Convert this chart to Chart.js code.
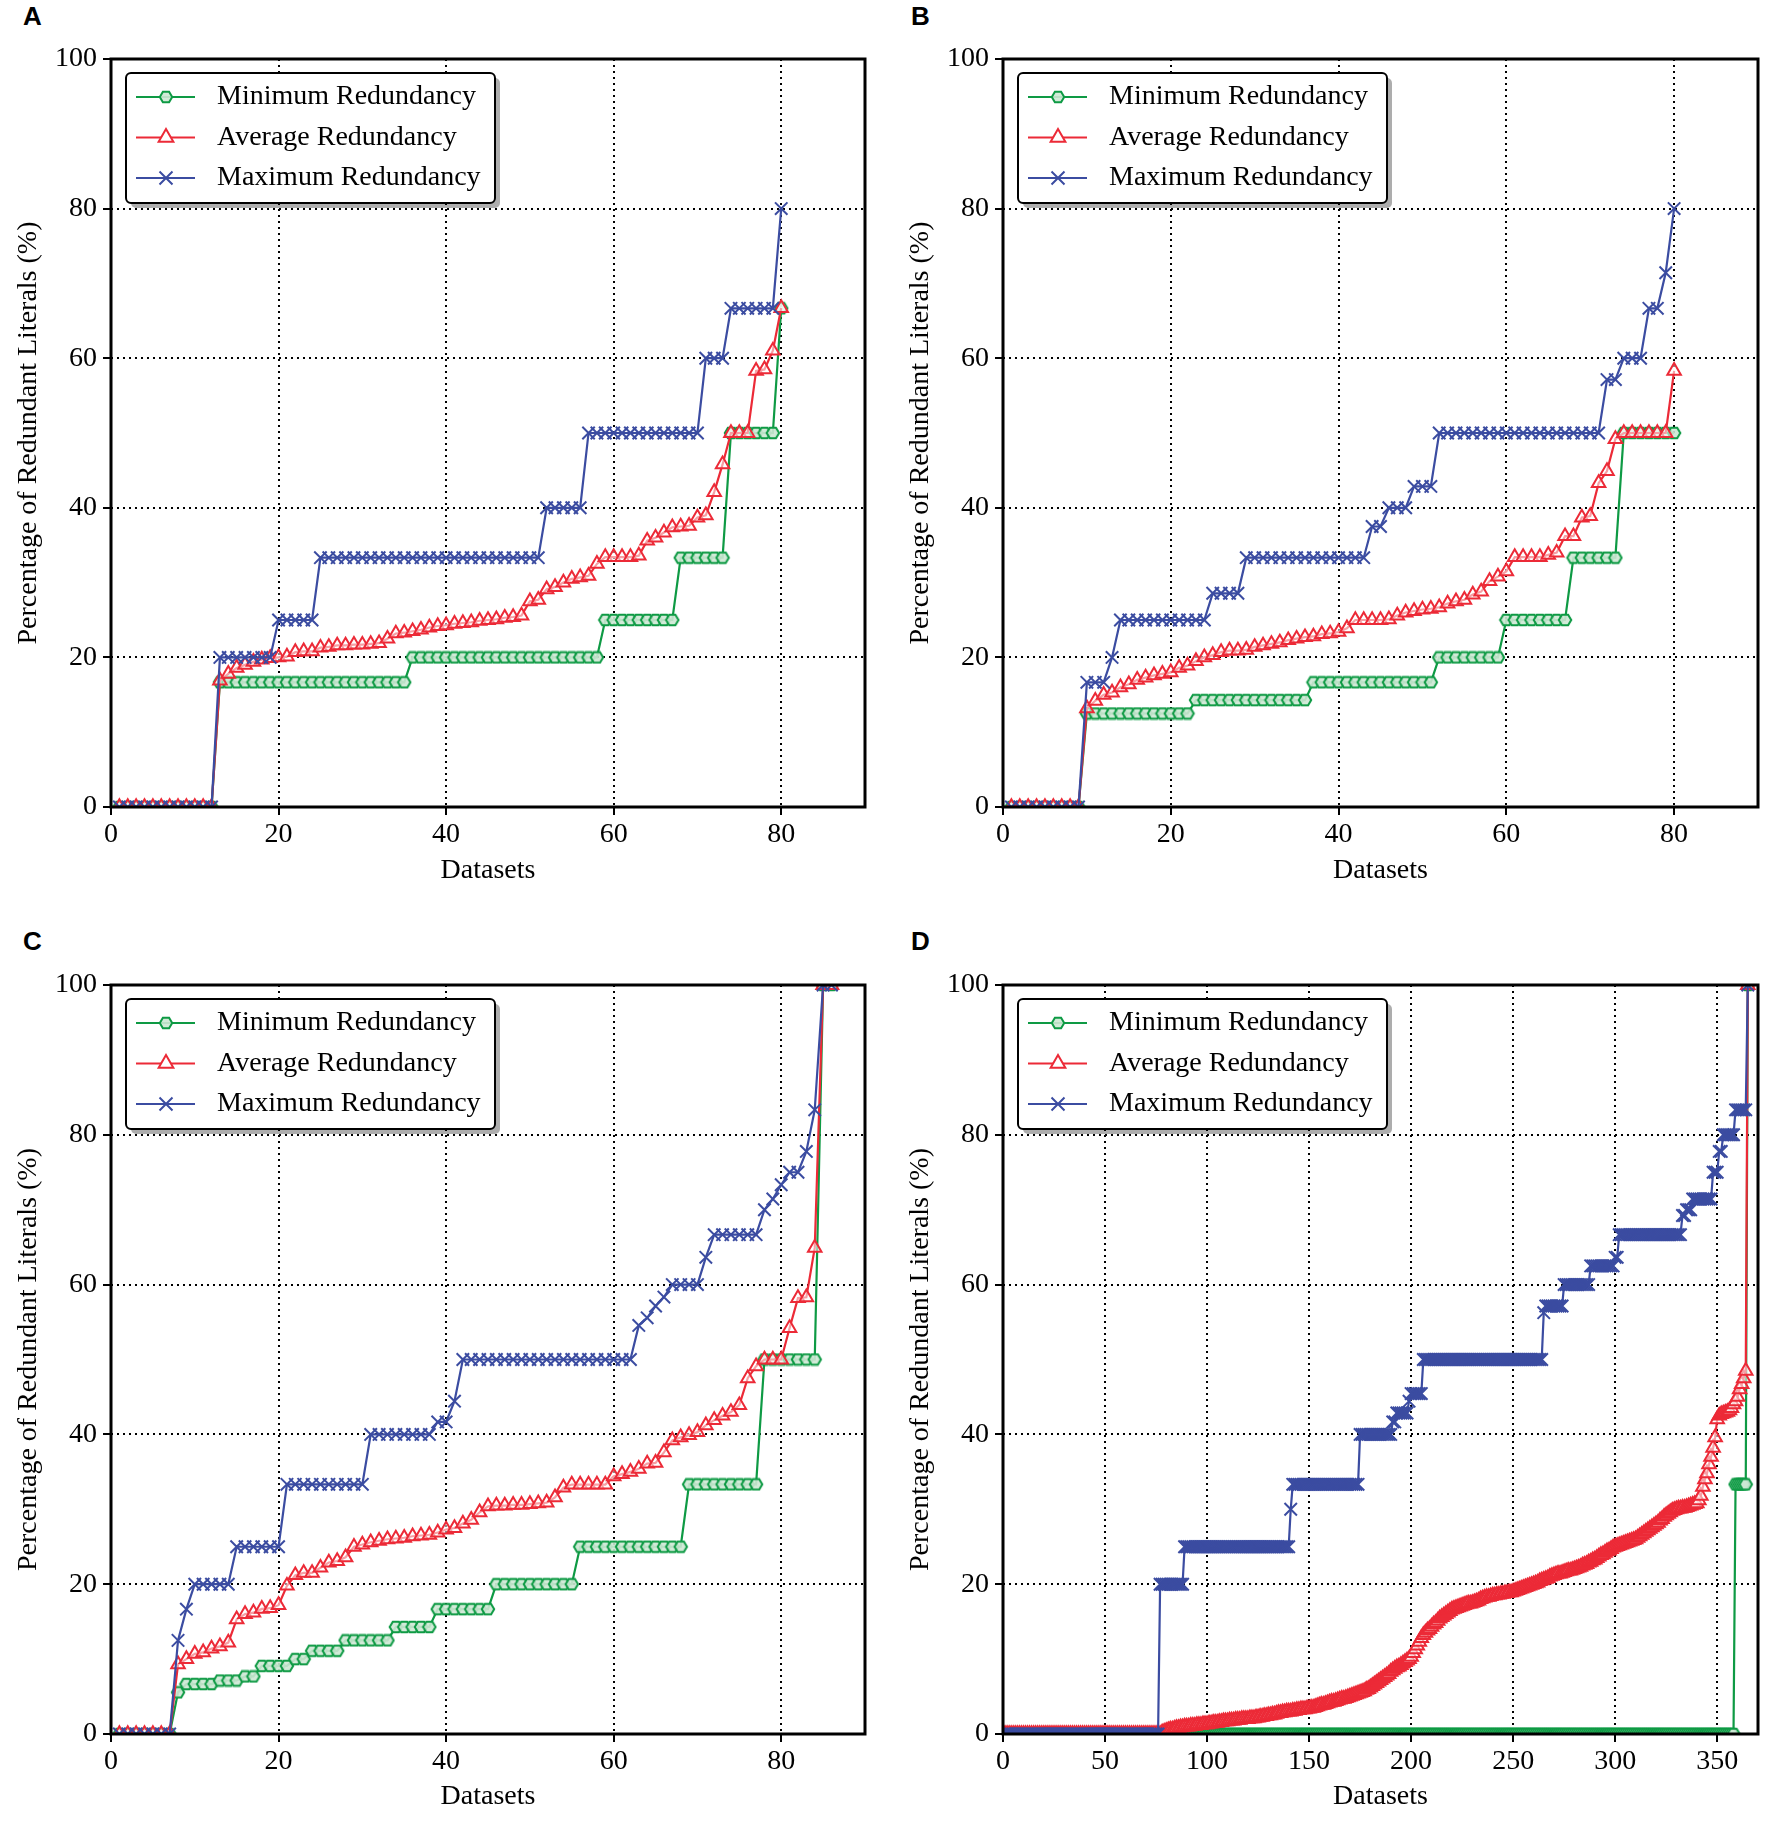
<!DOCTYPE html>
<html>
<head>
<meta charset="utf-8">
<script src="https://cdn.jsdelivr.net/npm/chart.js@4.4.1/dist/chart.umd.min.js"></script>
<style>
  html, body { margin: 0; padding: 0; background: #fff; }
  body { width: 1772px; height: 1826px; position: relative; overflow: hidden; }
  canvas { position: absolute; }
  .tag { position: absolute; font: bold 26px "Liberation Sans", Arial, sans-serif; line-height: 26px; color: #000; }
</style>
</head>
<body>
<div class="tag" style="left:23px;top:3px">A</div>
<div class="tag" style="left:911px;top:3px">B</div>
<div class="tag" style="left:23px;top:928px">C</div>
<div class="tag" style="left:911px;top:928px">D</div>
<canvas id="plotA" width="886" height="913" style="left:0;top:0"></canvas>
<canvas id="plotB" width="886" height="913" style="left:886px;top:0"></canvas>
<canvas id="plotC" width="886" height="913" style="left:0;top:913px"></canvas>
<canvas id="plotD" width="886" height="913" style="left:886px;top:913px"></canvas>
<script>
// series are written as run lists: [value, count] is a flat run, a bare number is one dataset
const minA = [[0, 12], [16.67, 23], [20, 23], [25, 9], [33.33, 6], [50, 6], 66.67];
const avgA = [[0, 12],
  16.9, 17.8, 18.6, 19.0, 19.4, 19.7, 19.9, 20.0, 20.1, 20.7, 20.8, 20.8, 21.3, 21.4, 21.6, 21.6,
  21.7, 21.7, 21.8, 21.9, 22.5, 23.2, 23.3, 23.5, 23.7, 24.0, 24.2, 24.3, 24.5, 24.6, 24.7, 24.9,
  25.0, 25.1, 25.3, 25.4, 25.6, 27.5, 27.7, 29.1, 29.4, 30.0, 30.5, 30.7, 30.9, 32.5, 33.4, 33.4,
  33.4, 33.4, 33.6, 35.6, 36.0, 36.7, 37.4, 37.5, 37.6, 38.7, 39.0, 42.1, 45.8, 50, 50, 50,
  58.3, 58.5, 61.0, 66.7];
const maxA = [[0, 12], [20, 7], [25, 5], [33.33, 27], [40, 5], [50, 14], [60, 3], [66.67, 6], 80];

const minB = [[0, 9], [12.5, 13], [14.29, 14], [16.67, 15], [20, 8], [25, 8], [33.33, 6], [50, 7]];
const avgB = [[0, 9],
  13.2, 14.2, 15.0, 15.3, 16.0, 16.4, 17.0, 17.3, 17.6, 17.8, 18.0, 18.6, 18.9, 19.5, 20.0, 20.3,
  20.7, 20.9, 20.9, 21.0, 21.4, 21.6, 21.8, 22.0, 22.3, 22.5, 22.7, 22.8, 23.1, 23.2, 23.4, 23.9,
  25.0, 25.0, 25.0, 25.0, 25.1, 25.6, 26.0, 26.2, 26.4, 26.5, 26.7, 27.2, 27.5, 27.7, 28.4, 28.8,
  30.2, 30.8, 31.5, 33.4, 33.4, 33.4, 33.4, 33.7, 34.0, 36.2, 36.2, 38.7, 38.9, 43.3, 44.9, 49.2,
  [50, 6], 58.3];
const maxB = [[0, 9], [16.67, 3], 20, [25, 11], [28.57, 4], [33.33, 15], [37.5, 2], [40, 3], [42.86, 3],
  [50, 20], [57.14, 2], [60, 3], [66.67, 2], 71.43, 80];

const minC = [[0, 7], 5.56, [6.67, 4], [7.14, 3], [7.69, 2], [9.09, 4], [10, 2], [11.11, 4], [12.5, 6],
  [14.29, 5], [16.67, 7], [20, 10], [25, 13], [33.33, 9], [50, 7], [100, 2]];
const avgC = [[0, 7],
  9.3, 10.0, 10.7, 10.9, 11.4, 11.7, 12.2, 15.3, 16.0, 16.2, 16.7, 16.8, 17.2, 19.8, 21.2, 21.5,
  21.5, 22.2, 22.9, 23.1, 23.6, 25.0, 25.3, 25.6, 25.8, 26.0, 26.1, 26.2, 26.4, 26.5, 26.6, 26.9,
  27.3, 27.5, 28.1, 28.6, 29.6, 30.4, 30.5, 30.5, 30.6, 30.6, 30.7, 30.8, 30.9, 31.6, 32.9, 33.3,
  33.3, 33.3, 33.3, 33.3, 34.4, 34.7, 35.0, 35.4, 36.1, 36.2, 37.6, 39.2, 39.6, 39.9, 40.3, 41.2,
  41.9, 42.5, 43.0, 43.9, 47.5, 49.1, 50, 50, 50, 54.2, 58.2, 58.3, 64.9, 100, 100];
const maxC = [[0, 7], 12.5, 16.67, [20, 5], [25, 6], [33.33, 10], [40, 8], [41.67, 2], 44.44, [50, 21],
  54.55, 55.56, 57.14, 58.33, [60, 4], 63.64, [66.67, 6], 70, 71.43, 73.33, [75, 2], 77.78, 83.33, [100, 2]];

const minD = [[0, 358], [33.33, 6], 100];
const avgD = [[0, 77],
  0.2, 0.3, 0.4, 0.5, 0.6, 0.6, 0.7, 0.8, 0.8, 0.9, 0.9, 1.0, 1.0, 1.0, 1.1, 1.1, 1.1, 1.2, 1.2, 1.2, 1.3, 1.3, 1.3,
  1.4, 1.4, 1.5, 1.5, 1.5, 1.6, 1.6, 1.7, 1.7, 1.7,
  1.8, 1.8, 1.8, 1.9, 1.9, 1.9, 2.0, 2.0, 2.0, 2.0,
  2.1, 2.1, 2.1, 2.2, 2.2, 2.3, 2.3, 2.4, 2.4, 2.5,
  2.5, 2.6, 2.6, 2.7, 2.8, 2.8, 2.9, 2.9, 3.0, 3.0,
  3.0, 3.1, 3.1, 3.2, 3.2, 3.3, 3.3, 3.3, 3.4, 3.4,
  3.5, 3.5, 3.6, 3.7, 3.8, 3.9, 3.9, 4.0, 4.1, 4.2,
  4.3, 4.3, 4.4, 4.5, 4.6, 4.7, 4.7, 4.8, 4.9, 5.0,
  5.1, 5.2, 5.3, 5.4, 5.5, 5.6, 5.7, 5.9, 6.0, 6.2,
  6.4, 6.6, 6.8, 7.0, 7.2, 7.4, 7.6, 7.8, 8.0, 8.3,
  8.5, 8.7, 8.9, 9.0, 9.2, 9.4, 9.6, 9.8, 10.0, 10.3,
  10.8, 11.3, 11.8, 12.3, 12.8, 13.2, 13.5, 13.8, 14.0, 14.3,
  14.6, 14.8, 15.1, 15.4, 15.6, 15.8, 16.0, 16.2, 16.4, 16.6,
  16.7, 16.8, 16.9, 17.0, 17.1, 17.2, 17.3, 17.4, 17.4, 17.5,
  17.6, 17.7, 17.8, 18.0, 18.1, 18.2, 18.3, 18.3, 18.4, 18.5,
  18.5, 18.6, 18.6, 18.7, 18.7, 18.8, 18.8, 18.9, 18.9, 19.0,
  19.1, 19.2, 19.3, 19.4, 19.5, 19.6, 19.7, 19.8, 19.9, 20.0,
  20.1, 20.2, 20.4, 20.5, 20.6, 20.7, 20.8, 21.0, 21.1, 21.2,
  21.3, 21.4, 21.4, 21.5, 21.6, 21.7, 21.8, 21.8, 21.9, 22.0,
  22.1, 22.2, 22.3, 22.5, 22.6, 22.7, 22.9, 23.0, 23.2, 23.3,
  23.5, 23.7, 23.9, 24.0, 24.2, 24.4, 24.5, 24.7, 24.9, 25.0,
  25.1, 25.2, 25.3, 25.4, 25.5, 25.6, 25.7, 25.8, 25.9, 26.0,
  26.2, 26.4, 26.6, 26.8, 27.0, 27.2, 27.4, 27.6, 27.8, 28.0,
  28.2, 28.5, 28.7, 29.0, 29.2, 29.4, 29.6, 29.8, 29.9, 30.0,
  30.1, 30.1, 30.2, 30.2, 30.3, 30.4, 30.5, 30.6, 30.7, 30.8,
  31.2, 31.8, 33.0, 34.0, 34.8, 36.0, 37.0, 38.2, 39.6, 42.0,
  42.5, 42.7, 42.8, 42.9, 43.0, 43.2, 43.5, 44.0, 44.4, 45.0,
  46.0, 46.7, 47.5, 48.5, 100];
const maxD = [[0, 76], [20, 12], [25, 52], 30, [33.33, 33], [40, 16], [41.67, 2], [42.86, 6], 44.44,
  [45.45, 6], [50, 59], 56.25, [57.14, 9], [60, 13], [62.5, 12], [63.64, 2], [66.67, 31], [69.23, 2],
  [70, 3], [71.43, 10], [75, 3], [77.78, 2], [80, 6], [83.33, 6], 100];

const xTicksSmall = [0, 20, 40, 60, 80];
const xTicksLarge = [0, 50, 100, 150, 200, 250, 300, 350];
const yTicks = [0, 20, 40, 60, 80, 100];

const seriesLabels = ["Minimum Redundancy", "Average Redundancy", "Maximum Redundancy"];
const GREEN = "#0e9a44";
const RED = "#ec2a37";
const BLUE = "#3b4ca1";
const SERIF = '"Liberation Serif", "Times New Roman", serif';

function expand(list) {
  let out = [];
  list.forEach((item) => {
    if (Array.isArray(item)) {
      for (let i = 0; i < item[1]; i++) out.push(item[0]);
    } else {
      out.push(item);
    }
  });
  return out;
}

//matplotlib-like hexagon marker, chart.js has none so it is passed as an image
function hexMarker(color) {
  let c = document.createElement("canvas");
  c.width = 16;
  c.height = 14;
  let g = c.getContext("2d");
  let cx = 8, cy = 7, rx = 6.2, ry = 5.2;
  g.beginPath();
  g.moveTo(cx - rx, cy);
  g.lineTo(cx - rx / 2, cy - ry);
  g.lineTo(cx + rx / 2, cy - ry);
  g.lineTo(cx + rx, cy);
  g.lineTo(cx + rx / 2, cy + ry);
  g.lineTo(cx - rx / 2, cy + ry);
  g.closePath();
  g.fillStyle = "rgba(205,232,212,0.9)";
  g.fill();
  g.lineWidth = 2;
  g.strokeStyle = color;
  g.stroke();
  return c;
}
const hexGreen = hexMarker(GREEN);

const markerStyles = [
  { color: GREEN, style: hexGreen, radius: 6 },
  { color: RED, style: "triangle", radius: 7.8 },
  { color: BLUE, style: "crossRot", radius: 8.8 },
];

function makeDataset(i, values) {
  let m = markerStyles[i];
  return {
    label: seriesLabels[i],
    order: 2 - i,
    data: expand(values).map((v, k) => ({ x: k + 1, y: v })),
    borderColor: m.color,
    borderWidth: 2.2,
    pointStyle: m.style,
    pointRadius: m.radius,
    pointBorderColor: m.color,
    pointBackgroundColor: "rgba(255,255,255,0.55)",
    pointBorderWidth: 2,
    tension: 0,
    fill: false,
  };
}

function drawLegendMarker(ctx, i, x, y) {
  let m = markerStyles[i];
  ctx.save();
  ctx.strokeStyle = m.color;
  ctx.lineWidth = 2;
  if (i == 0) {
    ctx.drawImage(hexGreen, x - 8, y - 7);
  } else if (i == 1) {
    let r = 8.5;
    ctx.beginPath();
    ctx.moveTo(x, y - r);
    ctx.lineTo(x + r * 0.866, y + r / 2);
    ctx.lineTo(x - r * 0.866, y + r / 2);
    ctx.closePath();
    ctx.fillStyle = "#fff";
    ctx.fill();
    ctx.stroke();
  } else {
    let d = 6.5;
    ctx.beginPath();
    ctx.moveTo(x - d, y - d);
    ctx.lineTo(x + d, y + d);
    ctx.moveTo(x + d, y - d);
    ctx.lineTo(x - d, y + d);
    ctx.stroke();
  }
  ctx.restore();
}

function roundRect(ctx, x, y, w, h, r) {
  ctx.beginPath();
  ctx.moveTo(x + r, y);
  ctx.arcTo(x + w, y, x + w, y + h, r);
  ctx.arcTo(x + w, y + h, x, y + h, r);
  ctx.arcTo(x, y + h, x, y, r);
  ctx.arcTo(x, y, x + w, y, r);
  ctx.closePath();
}

//box round the plot area plus the framed legend in the upper left corner
const framePlugin = {
  id: "frameAndLegend",
  afterDraw(chart) {
    let ctx = chart.ctx;
    let a = chart.chartArea;
    ctx.save();
    ctx.strokeStyle = "#000";
    ctx.lineWidth = 3;
    ctx.strokeRect(a.left, a.top, a.right - a.left, a.bottom - a.top);

    let bx = a.left + 15, by = a.top + 14, bw = 369, bh = 130;
    roundRect(ctx, bx + 5, by + 5, bw, bh, 5);
    ctx.fillStyle = "rgba(0,0,0,0.32)";
    ctx.fill();
    roundRect(ctx, bx, by, bw, bh, 5);
    ctx.fillStyle = "#fff";
    ctx.fill();
    ctx.lineWidth = 2;
    ctx.stroke();

    ctx.font = "28px " + SERIF;
    ctx.textBaseline = "middle";
    seriesLabels.forEach((label, i) => {
      let ly = a.top + 38 + i * 40.5;
      ctx.strokeStyle = markerStyles[i].color;
      ctx.lineWidth = 2.2;
      ctx.beginPath();
      ctx.moveTo(a.left + 25, ly);
      ctx.lineTo(a.left + 84, ly);
      ctx.stroke();
      drawLegendMarker(ctx, i, a.left + 55, ly);
      ctx.fillStyle = "#000";
      ctx.fillText(label, a.left + 106, ly);
    });
    ctx.restore();
  },
};

const panels = [
  { id: "plotA", series: [minA, avgA, maxA], xMax: 90, xTicks: xTicksSmall, area: { l: 111, t: 59, r: 865, b: 807 }, yTitlePad: 12, xTitlePad: 26 },
  { id: "plotB", series: [minB, avgB, maxB], xMax: 90, xTicks: xTicksSmall, area: { l: 117, t: 59, r: 872, b: 807 }, yTitlePad: 18, xTitlePad: 26 },
  { id: "plotC", series: [minC, avgC, maxC], xMax: 90, xTicks: xTicksSmall, area: { l: 111, t: 72, r: 865, b: 821 }, yTitlePad: 12, xTitlePad: 13 },
  { id: "plotD", series: [minD, avgD, maxD], xMax: 370, xTicks: xTicksLarge, area: { l: 117, t: 72, r: 872, b: 821 }, yTitlePad: 18, xTitlePad: 13 },
];

function drawPanel(p) {
  let canvas = document.getElementById(p.id);
  let W = canvas.width, H = canvas.height;
  let tickFont = { family: SERIF, size: 28 };
  let grid = {
    color: "#000",
    lineWidth: 2,
    drawTicks: true,
    tickLength: 8,
    tickWidth: 2,
    tickColor: "#000",
  };
  new Chart(canvas.getContext("2d"), {
    type: "line",
    data: { datasets: p.series.map((s, i) => makeDataset(i, s)) },
    options: {
      responsive: false,
      animation: false,
      events: [],
      layout: { autoPadding: false, padding: { left: 0, top: p.area.t, right: W - p.area.r, bottom: 0 } },
      plugins: { legend: { display: false }, tooltip: { enabled: false } },
      scales: {
        x: {
          type: "linear",
          min: 0,
          max: p.xMax,
          grid: grid,
          border: { display: false, dash: [2, 4] },
          afterBuildTicks: (s) => { s.ticks = p.xTicks.map((v) => ({ value: v })); },
          afterFit: (s) => { s.height = H - p.area.b; },
          ticks: { font: tickFont, color: "#000", padding: 3, maxRotation: 0, autoSkip: false },
          title: { display: true, text: "Datasets", color: "#000", font: tickFont, padding: { top: 0, bottom: p.xTitlePad } },
        },
        y: {
          type: "linear",
          min: 0,
          max: 100,
          grid: grid,
          border: { display: false, dash: [2, 4] },
          afterBuildTicks: (s) => { s.ticks = yTicks.map((v) => ({ value: v })); },
          afterFit: (s) => { s.width = p.area.l; },
          ticks: { font: tickFont, color: "#000", padding: 6 },
          title: { display: true, text: "Percentage of Redundant Literals (%)", color: "#000", font: tickFont, padding: { top: p.yTitlePad, bottom: 0 } },
        },
      },
    },
    plugins: [framePlugin],
  });
}

panels.forEach(drawPanel);
</script>
</body>
</html>
